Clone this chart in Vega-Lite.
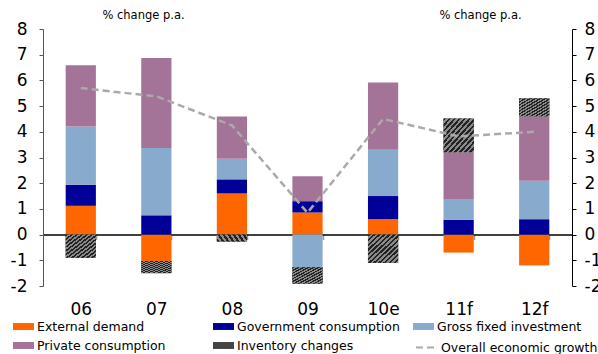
{
  "$schema": "https://vega.github.io/schema/vega-lite/v6.json",
  "width": 529,
  "height": 257,
  "autosize": {"type": "none"},
  "padding": {"left": 43, "top": 29, "right": 26, "bottom": 68},
  "config": {
    "font": "DejaVu Sans",
    "view": {"stroke": null},
    "axis": {"grid": false}
  },
  "datasets": {
    "components": [
      {"year": "06", "component": "External demand", "value": 1.12},
      {"year": "06", "component": "Government consumption", "value": 0.82},
      {"year": "06", "component": "Gross fixed investment", "value": 2.27},
      {"year": "06", "component": "Private consumption", "value": 2.38},
      {"year": "06", "component": "Inventory changes", "value": -0.9},
      {"year": "07", "component": "External demand", "value": -1.03},
      {"year": "07", "component": "Government consumption", "value": 0.75},
      {"year": "07", "component": "Gross fixed investment", "value": 2.62},
      {"year": "07", "component": "Private consumption", "value": 3.5},
      {"year": "07", "component": "Inventory changes", "value": -0.47},
      {"year": "08", "component": "External demand", "value": 1.6},
      {"year": "08", "component": "Government consumption", "value": 0.55},
      {"year": "08", "component": "Gross fixed investment", "value": 0.8},
      {"year": "08", "component": "Private consumption", "value": 1.65},
      {"year": "08", "component": "Inventory changes", "value": -0.27},
      {"year": "09", "component": "External demand", "value": 0.86},
      {"year": "09", "component": "Government consumption", "value": 0.44},
      {"year": "09", "component": "Gross fixed investment", "value": -1.27},
      {"year": "09", "component": "Private consumption", "value": 0.97},
      {"year": "09", "component": "Inventory changes", "value": -0.64},
      {"year": "10e", "component": "External demand", "value": 0.6},
      {"year": "10e", "component": "Government consumption", "value": 0.9},
      {"year": "10e", "component": "Gross fixed investment", "value": 1.8},
      {"year": "10e", "component": "Private consumption", "value": 2.62},
      {"year": "10e", "component": "Inventory changes", "value": -1.1},
      {"year": "11f", "component": "External demand", "value": -0.7},
      {"year": "11f", "component": "Government consumption", "value": 0.58},
      {"year": "11f", "component": "Gross fixed investment", "value": 0.81},
      {"year": "11f", "component": "Private consumption", "value": 1.81},
      {"year": "11f", "component": "Inventory changes", "value": 1.32},
      {"year": "12f", "component": "External demand", "value": -1.2},
      {"year": "12f", "component": "Government consumption", "value": 0.6},
      {"year": "12f", "component": "Gross fixed investment", "value": 1.5},
      {"year": "12f", "component": "Private consumption", "value": 2.5},
      {"year": "12f", "component": "Inventory changes", "value": 0.7}
    ],
    "growth": [
      {"year": "06", "series": "Overall economic growth", "growth": 5.7},
      {"year": "07", "series": "Overall economic growth", "growth": 5.38},
      {"year": "08", "series": "Overall economic growth", "growth": 4.25},
      {"year": "09", "series": "Overall economic growth", "growth": 0.85},
      {"year": "10e", "series": "Overall economic growth", "growth": 4.5},
      {"year": "11f", "series": "Overall economic growth", "growth": 3.82},
      {"year": "12f", "series": "Overall economic growth", "growth": 4.0}
    ]
  },
  "layer": [
    {
      "data": {"name": "components"},
      "transform": [
        {"calculate": "indexof(['External demand', 'Government consumption', 'Gross fixed investment', 'Private consumption', 'Inventory changes'], datum.component)", "as": "stack_rank"},
        {"stack": "value", "groupby": ["year"], "sort": [{"field": "stack_rank", "order": "ascending"}], "offset": "zero", "as": ["v0", "v1"]}
      ],
      "encoding": {
        "x": {
          "field": "year",
          "type": "ordinal",
          "sort": null,
          "scale": {"paddingInner": 0.6, "paddingOuter": 0.3},
          "axis": {
            "title": null,
            "orient": "bottom",
            "offset": -51.4,
            "domainColor": "#000000",
            "domainWidth": 1.5,
            "tickBand": "extent",
            "tickColor": "#999999",
            "tickWidth": 1.5,
            "tickSize": 5,
            "labelAngle": 0,
            "labelFontSize": 17,
            "labelColor": "#000000",
            "labelPadding": 62
          }
        },
        "y": {
          "field": "v0",
          "type": "quantitative",
          "scale": {"domain": [-2, 8], "nice": false},
          "axis": {
            "values": [-2, -1, 0, 1, 2, 3, 4, 5, 6, 7, 8],
            "labelOverlap": false,
            "labelExpr": "replace(datum.label, '\u2212', '-')",
            "orient": "left",
            "domainColor": "#555555",
            "domainWidth": 1,
            "tickColor": "#555555",
            "tickSize": 4,
            "labelFontSize": 17,
            "labelColor": "#000000",
            "labelPadding": 12,
            "title": "% change p.a.",
            "titleAngle": 0,
            "titleFontSize": 11.5,
            "titleFontWeight": "normal",
            "titleColor": "#000000",
            "titleAlign": "center",
            "titleBaseline": "middle",
            "titleX": 100,
            "titleY": -14
          }
        },
        "y2": {"field": "v1"}
      },
      "layer": [
        {
          "mark": {"type": "bar"},
          "encoding": {
            "color": {
              "field": "component",
              "type": "nominal",
              "sort": ["External demand", "Government consumption", "Gross fixed investment", "Private consumption", "Inventory changes"],
              "scale": {
                "domain": ["External demand", "Government consumption", "Gross fixed investment", "Private consumption", "Inventory changes"],
                "range": ["#ff6600", "#000099", "#88aacc", "#a47498", "#444444"]
              },
              "legend": {
                "title": null,
                "orient": "none",
                "legendX": -30,
                "legendY": 287,
                "direction": "horizontal",
                "columns": 3,
                "gridAlign": "all",
                "columnPadding": 13,
                "rowPadding": 2,
                "padding": 0,
                "symbolType": "M-1,-0.33H1V0.33H-1Z",
                "symbolSize": 441,
                "symbolStrokeWidth": 0,
                "symbolOpacity": 1,
                "labelFontSize": 12.5,
                "labelColor": "#000000",
                "labelOffset": 3,
                "labelLimit": 300
              }
            }
          }
        },
        {
          "transform": [{"filter": "datum.component === 'Inventory changes'"}],
          "mark": {
            "type": "bar",
            "color": {
              "gradient": "linear",
              "x1": 0, "y1": 0, "x2": 1, "y2": 1,
              "stops": [
                {"offset": 0, "color": "#222222"}, {"offset": 0.041667, "color": "#222222"},
                {"offset": 0.041667, "color": "#8a8a8a"}, {"offset": 0.083333, "color": "#8a8a8a"},
                {"offset": 0.083333, "color": "#222222"}, {"offset": 0.125, "color": "#222222"},
                {"offset": 0.125, "color": "#8a8a8a"}, {"offset": 0.166667, "color": "#8a8a8a"},
                {"offset": 0.166667, "color": "#222222"}, {"offset": 0.208333, "color": "#222222"},
                {"offset": 0.208333, "color": "#8a8a8a"}, {"offset": 0.25, "color": "#8a8a8a"},
                {"offset": 0.25, "color": "#222222"}, {"offset": 0.291667, "color": "#222222"},
                {"offset": 0.291667, "color": "#8a8a8a"}, {"offset": 0.333333, "color": "#8a8a8a"},
                {"offset": 0.333333, "color": "#222222"}, {"offset": 0.375, "color": "#222222"},
                {"offset": 0.375, "color": "#8a8a8a"}, {"offset": 0.416667, "color": "#8a8a8a"},
                {"offset": 0.416667, "color": "#222222"}, {"offset": 0.458333, "color": "#222222"},
                {"offset": 0.458333, "color": "#8a8a8a"}, {"offset": 0.5, "color": "#8a8a8a"},
                {"offset": 0.5, "color": "#222222"}, {"offset": 0.541667, "color": "#222222"},
                {"offset": 0.541667, "color": "#8a8a8a"}, {"offset": 0.583333, "color": "#8a8a8a"},
                {"offset": 0.583333, "color": "#222222"}, {"offset": 0.625, "color": "#222222"},
                {"offset": 0.625, "color": "#8a8a8a"}, {"offset": 0.666667, "color": "#8a8a8a"},
                {"offset": 0.666667, "color": "#222222"}, {"offset": 0.708333, "color": "#222222"},
                {"offset": 0.708333, "color": "#8a8a8a"}, {"offset": 0.75, "color": "#8a8a8a"},
                {"offset": 0.75, "color": "#222222"}, {"offset": 0.791667, "color": "#222222"},
                {"offset": 0.791667, "color": "#8a8a8a"}, {"offset": 0.833333, "color": "#8a8a8a"},
                {"offset": 0.833333, "color": "#222222"}, {"offset": 0.875, "color": "#222222"},
                {"offset": 0.875, "color": "#8a8a8a"}, {"offset": 0.916667, "color": "#8a8a8a"},
                {"offset": 0.916667, "color": "#222222"}, {"offset": 0.958333, "color": "#222222"},
                {"offset": 0.958333, "color": "#8a8a8a"}, {"offset": 1, "color": "#8a8a8a"}
              ]
            }
          }
        }
      ]
    },
    {
      "data": {"name": "growth"},
      "mark": {"type": "line", "color": "#aaaaaa", "strokeWidth": 2.5},
      "encoding": {
        "x": {"field": "year", "type": "ordinal", "sort": null},
        "y": {
          "field": "growth",
          "type": "quantitative",
          "scale": {"domain": [-2, 8], "nice": false},
          "axis": {
            "values": [-2, -1, 0, 1, 2, 3, 4, 5, 6, 7, 8],
            "labelOverlap": false,
            "labelExpr": "replace(datum.label, '\u2212', '-')",
            "orient": "right",
            "domainColor": "#000000",
            "domainWidth": 1,
            "tickColor": "#000000",
            "tickSize": 4,
            "labelFontSize": 17,
            "labelColor": "#000000",
            "labelPadding": 8,
            "title": "% change p.a.",
            "titleAngle": 0,
            "titleFontSize": 11.5,
            "titleFontWeight": "normal",
            "titleColor": "#000000",
            "titleAlign": "center",
            "titleBaseline": "middle",
            "titleX": -92,
            "titleY": -14
          }
        },
        "strokeDash": {
          "field": "series",
          "type": "nominal",
          "scale": {"range": [[7, 4]]},
          "legend": {
            "title": null,
            "orient": "none",
            "legendX": 372,
            "legendY": 307,
            "padding": 0,
            "symbolType": "stroke",
            "symbolSize": 441,
            "symbolStrokeColor": "#aaaaaa",
            "symbolStrokeWidth": 2,
            "symbolDash": [4, 3],
            "labelFontSize": 12.5,
            "labelColor": "#000000",
            "labelOffset": 3,
            "labelLimit": 300
          }
        }
      }
    }
  ],
  "resolve": {"scale": {"y": "independent"}}
}
